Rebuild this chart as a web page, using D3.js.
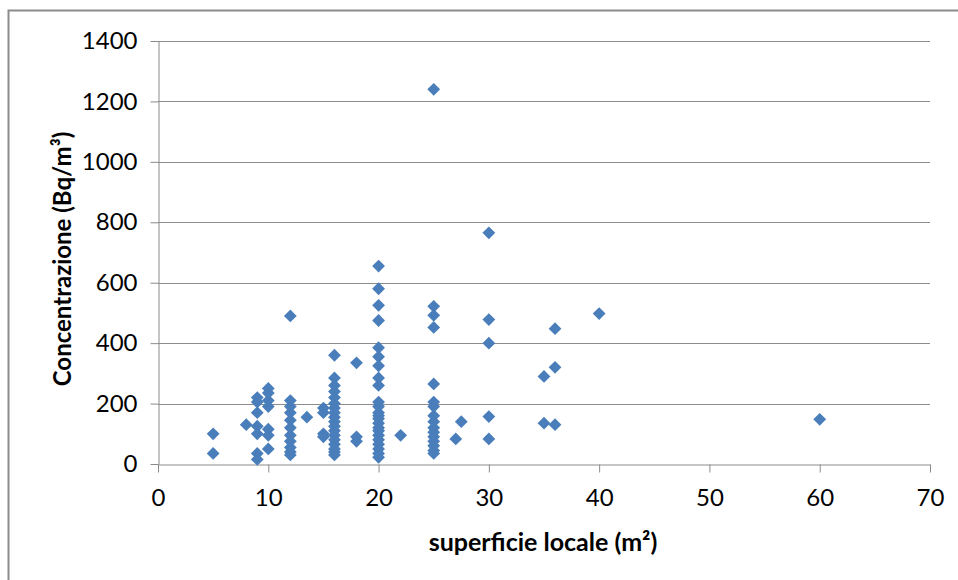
<!DOCTYPE html>
<html lang="it">
<head>
<meta charset="UTF-8">
<title>Concentrazione vs superficie locale</title>
<style>
  body { margin: 0; background: #fff; }
  svg text { font-family: Lato, "Open Sans", sans-serif; fill: #000; }
  .grid line { stroke: #8c8c8c; stroke-width: 1; }
  .axis path, .axis line { stroke: #8c8c8c; }
</style>
</head>
<body>
<svg id="chart" width="958" height="580"></svg>
<script src="https://d3js.org/d3.v7.min.js"></script>
<script>
// superficie (m2) and concentrazione (Bq/m3), point by point, grouped by column
const superficie = [
  5, 5,
  8,
  9, 9, 9, 9, 9, 9, 9,
  10, 10, 10, 10, 10, 10, 10,
  12, 12, 12, 12, 12, 12, 12, 12, 12, 12, 12,
  13.5,
  15, 15, 15, 15,
  16, 16, 16, 16, 16, 16, 16, 16, 16, 16, 16, 16, 16, 16, 16, 16, 16, 16,
  18, 18, 18,
  20, 20, 20, 20, 20, 20, 20, 20, 20, 20, 20, 20, 20, 20, 20, 20, 20, 20, 20, 20, 20, 20, 20,
  22,
  25, 25, 25, 25, 25, 25, 25, 25, 25, 25, 25, 25, 25, 25, 25, 25,
  27, 27.5,
  30, 30, 30, 30, 30,
  35, 35,
  36, 36, 36,
  40,
  60
];
const concentrazione = [
  100, 35,
  130,
  220, 205, 170, 125, 100, 35, 15,
  250, 235, 210, 190, 115, 95, 50,
  490, 210, 190, 170, 145, 120, 95, 75, 55, 40, 30,
  155,
  185, 170, 100, 90,
  360, 285, 260, 240, 220, 200, 185, 170, 155, 140, 125, 110, 95, 80, 65, 50, 40, 30,
  335, 90, 75,
  655, 580, 525, 475, 385, 355, 325, 285, 260, 205, 190, 170, 160, 150, 135, 120, 110, 95, 80, 65, 50, 35, 22,
  95,
  1240, 522, 492, 452, 265, 205, 190, 160, 140, 120, 105, 90, 75, 60, 45, 35,
  83, 140,
  765, 478, 400, 157, 83,
  290, 135,
  448, 320, 130,
  498,
  148
];
const xTicks = [0, 10, 20, 30, 40, 50, 60, 70];
const yTicks = [0, 200, 400, 600, 800, 1000, 1200, 1400];

const svg = d3.select("#chart");
const plotLeft = 158, plotRight = 930, plotTop = 41, plotBottom = 464;

const x = d3.scaleLinear().domain([0, 70]).range([plotLeft, plotRight]);
const y = d3.scaleLinear().domain([0, 1400]).range([plotBottom, plotTop]);

// chart frame (only left and top edges fall inside the picture)
svg.append("rect")
  .attr("x", 8.5).attr("y", 10.5)
  .attr("width", 1000).attr("height", 1000)
  .attr("fill", "none")
  .attr("stroke", "#8c8c8c")
  .attr("stroke-width", 2);

// horizontal gridlines
svg.append("g").attr("class", "grid")
  .selectAll("line")
  .data(yTicks.filter(d => d > 0))
  .enter().append("line")
  .attr("x1", plotLeft).attr("x2", plotRight)
  .attr("y1", d => Math.round(y(d)) + 0.5)
  .attr("y2", d => Math.round(y(d)) + 0.5);

// axes
const xAxis = svg.append("g").attr("class", "axis")
  .attr("transform", `translate(0,${plotBottom + 0.5})`)
  .call(d3.axisBottom(x).tickValues(xTicks).tickFormat(d3.format("d"))
    .tickSize(8).tickSizeOuter(0).tickPadding(16));
const yAxis = svg.append("g").attr("class", "axis")
  .attr("transform", `translate(${plotLeft + 0.5},0)`)
  .call(d3.axisLeft(y).tickValues(yTicks).tickFormat(d3.format("d"))
    .tickSize(8).tickSizeOuter(0).tickPadding(13));

svg.selectAll(".axis text")
  .style("font-size", "24px")
  .attr("fill", "#000");

// points
svg.append("g")
  .selectAll("path")
  .data(superficie.map((s, i) => ({ s, c: concentrazione[i] })))
  .enter().append("path")
  .attr("d", d3.symbol().type(d3.symbolSquare).size(82))
  .attr("fill", "#4a7ebb")
  .attr("transform", d => `translate(${x(d.s)},${y(d.c)}) rotate(45)`);

// axis titles
svg.append("text")
  .attr("x", 543)
  .attr("y", 551)
  .attr("text-anchor", "middle")
  .style("font-size", "25px")
  .style("font-weight", "bold")
  .text("superficie locale (m²)");

svg.append("text")
  .attr("transform", `translate(71,259) rotate(-90)`)
  .attr("text-anchor", "middle")
  .style("font-size", "24px")
  .style("font-weight", "bold")
  .text("Concentrazione (Bq/m³)");
</script>
</body>
</html>
